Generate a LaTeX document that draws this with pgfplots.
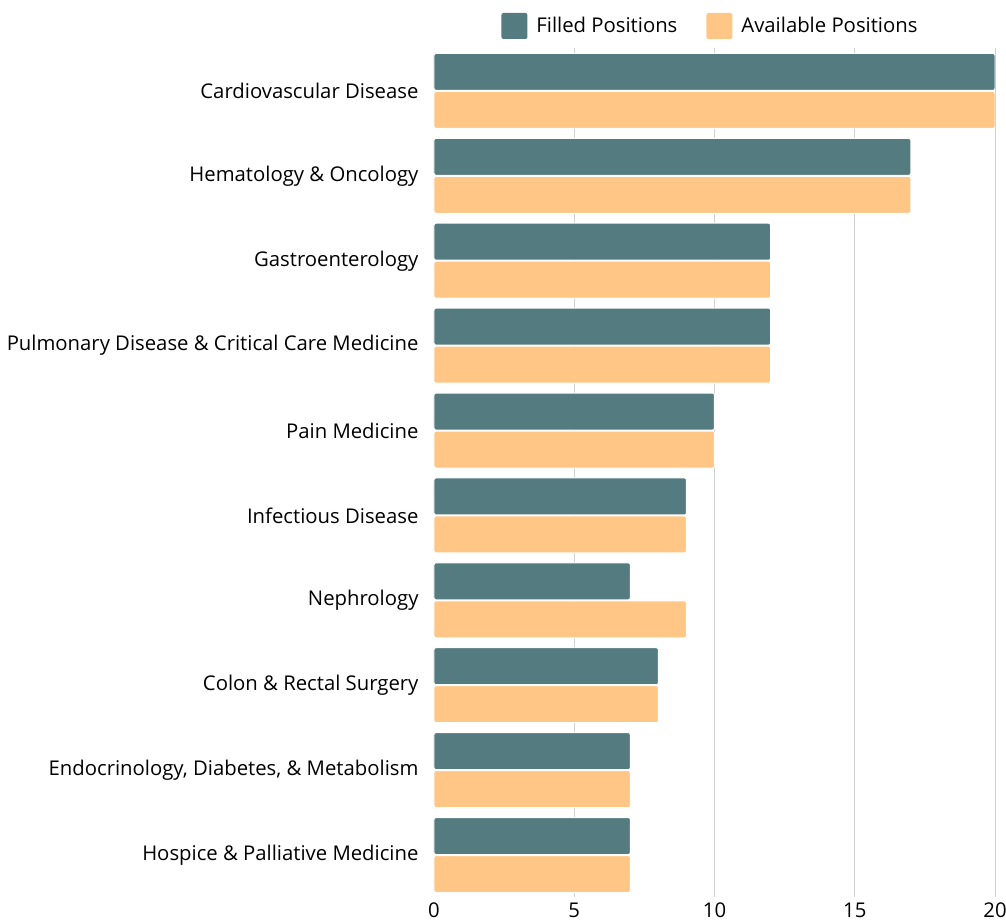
\documentclass[border=0pt]{standalone}
\usepackage{pgfplots}
\pgfplotsset{compat=1.18}
\usepackage{fontspec}
\setmainfont{Open Sans}
\definecolor{filled}{HTML}{547B80}
\definecolor{avail}{HTML}{FFC685}
\begin{document}
\begin{tikzpicture}
\begin{axis}[
 name=ax, scale only axis, width=561pt, height=849pt,
 xbar, xmin=0, xmax=20, ymin=-0.5, ymax=9.5,
 bar width=37pt,
 xtick={5,10,15,20},
 extra x ticks={0}, extra x tick style={grid=none},
 ytick={0,...,9},
 yticklabels={Hospice \& Palliative Medicine,{Endocrinology, Diabetes, \& Metabolism},Colon \& Rectal Surgery,Nephrology,Infectious Disease,Pain Medicine,Pulmonary Disease \& Critical Care Medicine,Gastroenterology,Hematology \& Oncology,Cardiovascular Disease},
 axis line style={draw=none},
 major tick length=0pt,
 xmajorgrids, grid style={draw=black!18, line width=1pt},
 tick label style={font=\fontsize{20.3}{24}\selectfont},
 yticklabel style={xshift=-12pt, yshift=0pt},
 xticklabel style={yshift=-1.5pt},
 /pgf/number format/assume math mode=true,
 legend columns=2,
 legend style={at={(0.5,1)}, anchor=center, xshift=-4pt, yshift=22.5pt, draw=none, fill=none,
   font=\fontsize{20.3}{24}\selectfont,
   /tikz/every odd column/.append style={column sep=7pt},
   /tikz/every even column/.append style={column sep=27pt}},
 legend image code/.code={\fill[#1, draw=none] (0pt,-13pt) rectangle (26pt,13pt);},
]
\addplot[fill=filled, draw=white, line width=1pt, bar shift=19pt, rounded corners=2pt]
 coordinates {(7,0) (7,1) (8,2) (7,3) (9,4) (10,5) (12,6) (12,7) (17,8) (20,9)};
\addlegendentry{Filled Positions}
\addplot[fill=avail, draw=white, line width=1pt, bar shift=-19pt, rounded corners=2pt]
 coordinates {(7,0) (7,1) (8,2) (9,3) (9,4) (10,5) (12,6) (12,7) (17,8) (20,9)};
\addlegendentry{Available Positions}
\end{axis}
\pgfresetboundingbox
\useasboundingbox ([xshift=-434pt,yshift=48.5pt]ax.north west) rectangle ([xshift=11pt,yshift=-24.5pt]ax.south east);
\end{tikzpicture}
\end{document}
